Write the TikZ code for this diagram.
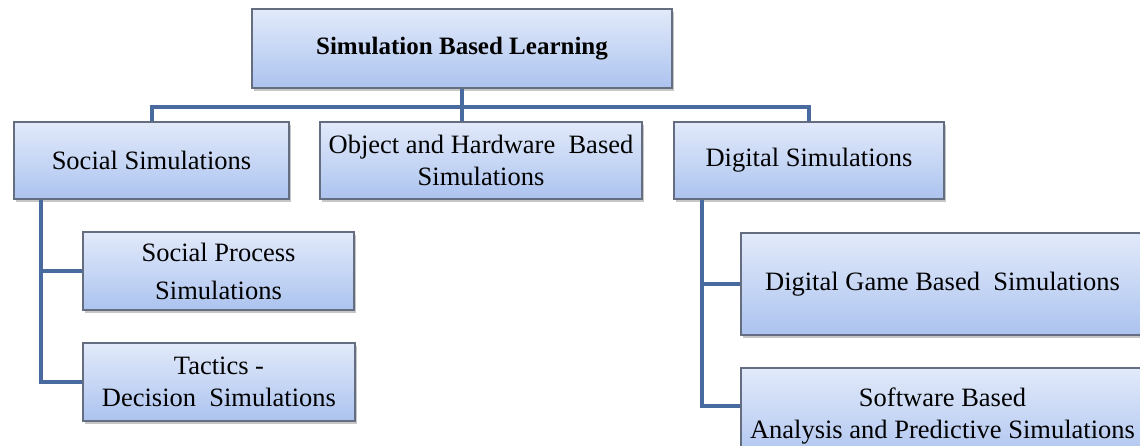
\documentclass[tikz,border=0pt]{standalone}
\usepackage{fontspec}
\setmainfont{Liberation Serif}
\usepackage{tikz}
\usetikzlibrary{shadows}

\definecolor{boxtop}{RGB}{226,234,250}
\definecolor{boxbot}{RGB}{172,195,239}
\definecolor{boxrim}{RGB}{100,110,128}
\definecolor{linkblue}{RGB}{72,106,158}

\begin{document}
\begin{tikzpicture}
  [x=1pt,y=1pt,
   every node/.style={rectangle,draw=boxrim,line width=1.2pt,top color=boxtop,bottom color=boxbot,
     drop shadow={shadow xshift=2pt,shadow yshift=-3pt,opacity=0.45},
     align=center,inner sep=0pt,font=\fontsize{26.5}{32}\selectfont},
   link/.style={draw=linkblue,line width=4pt}]
  \useasboundingbox (0,0) rectangle (1140,445);
  \clip (0,0) rectangle (1140,445);

  \node (nr)  at (462,396.5) [minimum width=420,minimum height=79,font=\fontsize{25}{30}\selectfont\bfseries] {Simulation Based Learning};
  \node (ns)  at (151.5,284.5) [minimum width=275,minimum height=77] {Social Simulations};
  \node (no)  at (481,284.5) [minimum width=322,minimum height=77] {Object and Hardware \ Based\\Simulations};
  \node (nd)  at (809,284.5) [minimum width=270,minimum height=77] {Digital Simulations};
  \node (nsp) at (218.5,174) [minimum width=271,minimum height=78] {Social Process\\[6pt]Simulations};
  \node (ntd) at (219,63) [minimum width=272,minimum height=78] {Tactics -\\Decision \ Simulations};
  \node (ndg) at (942.5,161) [minimum width=403,minimum height=102] {Digital Game Based \ Simulations};
  \node (nsw) at (942.5,29) [minimum width=403,minimum height=96] {Software Based\\Analysis and Predictive Simulations};

  \path[link] (nr.south) -- (nr.south |- no.north);
  \path[link] (ns.north) |- (nr.south |- 0,338) -| (nd.north);

  \path[link] ([xshift=28pt]ns.south west) |- (nsp.west);
  \path[link] ([xshift=28pt]ns.south west) |- (ntd.west);

  \path[link] ([xshift=29pt]nd.south west) |- (ndg.west);
  \path[link] ([xshift=29pt]nd.south west) |- ([yshift=-39pt]nsw.north west);

\end{tikzpicture}
\end{document}
